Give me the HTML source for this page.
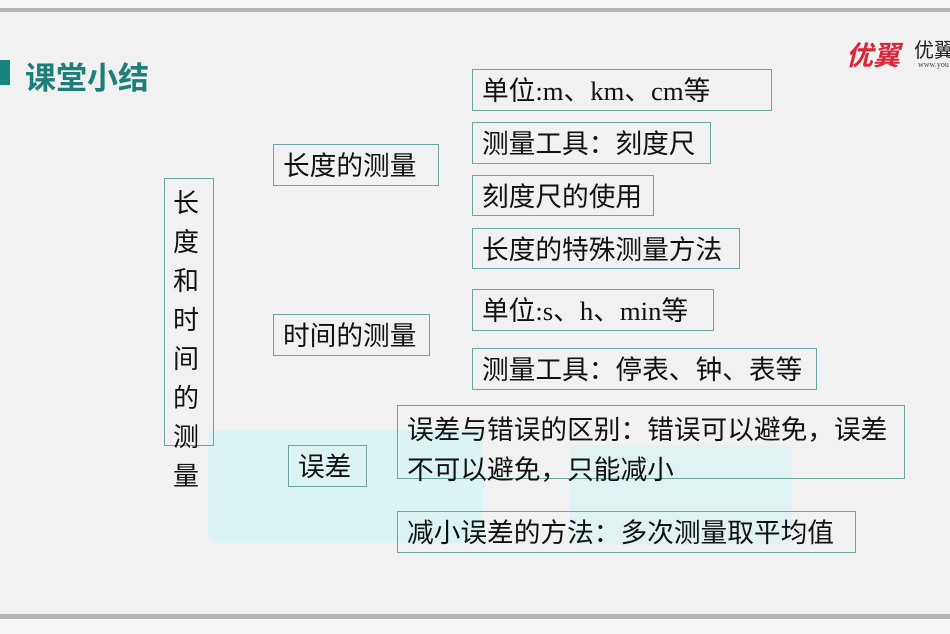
<!DOCTYPE html>
<html><head><meta charset="utf-8"><style>
body{margin:0;width:950px;height:634px;background:#f1f1f1;position:relative;overflow:hidden;font-family:"Liberation Serif","Noto Sans CJK SC",sans-serif;color:#111}
.b{position:absolute;border:1.5px solid #6aa6a4;box-sizing:border-box;font-size:26.7px;line-height:42px;padding-left:9px;white-space:nowrap}
.c{position:absolute;background:#d6f4f2;opacity:.8;border-radius:8px}
</style></head><body>
<div style="position:absolute;left:0;top:0;width:950px;height:8px;background:#f7f7f7"></div>
<div style="position:absolute;left:0;top:8px;width:950px;height:4px;background:#b3b5b8"></div>
<div style="position:absolute;left:0;top:614px;width:950px;height:5px;background:#b3b5b8"></div>
<div style="position:absolute;left:0;top:619px;width:950px;height:15px;background:#f7f7f7"></div>
<div class="c" style="left:208px;top:430px;width:275px;height:113px"></div>
<div class="c" style="left:570px;top:445px;width:222px;height:100px;opacity:.6"></div>
<div style="position:absolute;left:0;top:60px;width:10px;height:25px;background:#17857e"></div>
<div style="position:absolute;left:25px;top:53px;font-size:31px;font-weight:bold;color:#1d7e7a;font-family:'Liberation Sans','Noto Sans CJK SC',sans-serif;white-space:nowrap">课堂小结</div>
<div style="position:absolute;left:846px;top:34px;font-size:27px;font-weight:bold;font-style:italic;color:#d8263a;white-space:nowrap;font-family:'Liberation Sans','Noto Sans CJK SC',sans-serif">优翼</div>
<div style="position:absolute;left:914px;top:34px;font-size:20px;color:#222;white-space:nowrap;font-family:'Liberation Sans','Noto Sans CJK SC',sans-serif">优翼</div>
<div style="position:absolute;left:918px;top:60px;font-size:8px;color:#444;white-space:nowrap">www.you</div>
<div class="b" style="left:164px;top:178px;width:50px;height:268px"></div>
<div style="position:absolute;left:173px;top:184px;font-size:26px;line-height:39px;width:28px">长<br>度<br>和<br>时<br>间<br>的<br>测<br>量</div>
<div class="b" style="left:273px;top:144px;width:166px;height:42px">长度的测量</div>
<div class="b" style="left:273px;top:314px;width:157px;height:42px">时间的测量</div>
<div class="b" style="left:288px;top:445px;width:79px;height:42px">误差</div>
<div class="b" style="left:472px;top:69px;width:300px;height:42px">单位:m、km、cm等</div>
<div class="b" style="left:472px;top:122px;width:239px;height:42px">测量工具：刻度尺</div>
<div class="b" style="left:472px;top:175px;width:182px;height:41px">刻度尺的使用</div>
<div class="b" style="left:472px;top:228px;width:268px;height:41px">长度的特殊测量方法</div>
<div class="b" style="left:472px;top:289px;width:242px;height:42px">单位:s、h、min等</div>
<div class="b" style="left:472px;top:348px;width:345px;height:42px">测量工具：停表、钟、表等</div>
<div class="b" style="left:397px;top:405px;width:508px;height:74px;line-height:40px;padding-top:4px">误差与错误的区别：错误可以避免，误差<br>不可以避免，只能减小</div>
<div class="b" style="left:397px;top:511px;width:459px;height:42px">减小误差的方法：多次测量取平均值</div>
</body></html>
